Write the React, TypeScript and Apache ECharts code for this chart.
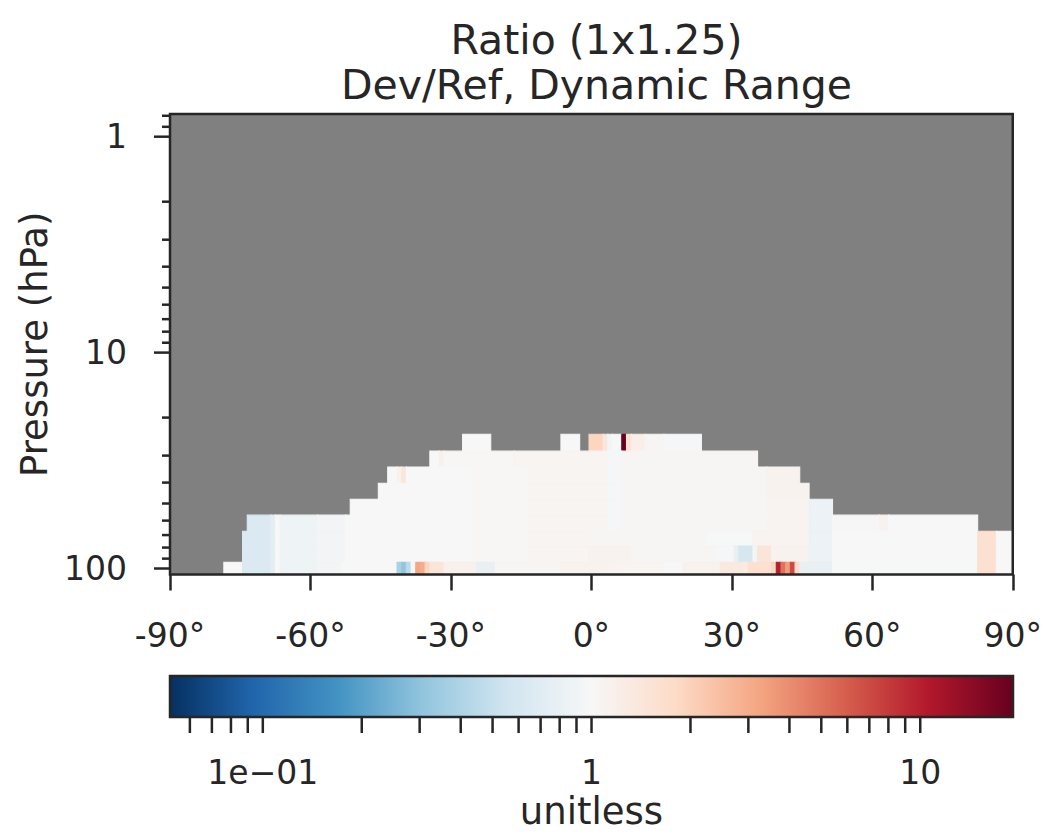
import React, { useEffect, useRef } from 'react';
import * as echarts from 'echarts';

const TITLE_TEXT = 'Ratio (1x1.25)\nDev/Ref, Dynamic Range';
const Y_NAME = 'Pressure (hPa)';
const CBAR_NAME = 'unitless';

// pressure level edges (hPa), top to bottom
const PRESSURE_EDGES = [23.9, 28.6, 33.9, 40.3, 47.8, 56.6, 67.2, 78.8, 93.5, 106.6];
const Y_MIN = 0.785;
const Y_MAX = 106.6;
const LAT_MIN = -90;
const LAT_MAX = 90;
const LAT_INTERVAL = 30;

const Y_MAJOR_TICKS = [1, 10, 100];
const Y_MINOR_TICKS = [0.8, 0.9, 2, 3, 4, 5, 6, 7, 8, 9, 20, 30, 40, 50, 60, 70, 80, 90];

const CBAR_MIN = 0.0522;
const CBAR_MAX = 19.15;
const CBAR_TICKS = [0.06, 0.07, 0.08, 0.09, 0.1, 0.2, 0.3, 0.4, 0.5, 0.6, 0.7, 0.8, 0.9, 1, 2, 3, 4, 5, 6, 7, 8, 9, 10];
const CBAR_LABELS: Record<string, string> = { '-1': '1e\u221201', '0': '1', '1': '10' };

const RDBU_R = ['#053061', '#2166ac', '#4393c3', '#92c5de', '#d1e5f0', '#f7f7f7', '#fddbc7', '#f4a582', '#d6604d', '#b2182b', '#67001f'];

// per pressure level (top to bottom): [first lat cell, last lat cell, Dev/Ref ratio]
const ROW_SEGMENTS: [number, number, number][][] = [
  [[-27, -22, 1.0], [-6, -3, 1.0], [0, 2, 1.9], [3, 3, 1.4], [4, 4, 0.93], [5, 6, 1.0], [7, 7, 19], [8, 8, 1.6], [9, 11, 1.2], [12, 15, 1.05], [16, 23, 0.97]],
  [[-34, -33, 1.0], [-32, -32, 1.15], [-31, -17, 1.03], [-16, 3, 1.07], [4, 6, 0.97], [7, 35, 1.05]],
  [[-43, -42, 1.0], [-41, -41, 1.1], [-40, -40, 1.4], [-39, -26, 1.0], [-25, -14, 1.03], [-13, 3, 1.07], [4, 6, 0.97], [7, 37, 1.05], [38, 44, 1.1]],
  [[-45, -26, 1.0], [-25, -14, 1.03], [-13, 3, 1.07], [4, 6, 0.97], [7, 37, 1.05], [38, 46, 1.1]],
  [[-51, -26, 1.0], [-25, -14, 1.03], [-13, 3, 1.07], [4, 6, 0.97], [7, 37, 1.05], [38, 46, 1.08], [47, 51, 0.84]],
  [[-73, -69, 0.64], [-68, -68, 0.73], [-67, -67, 1.0], [-66, -59, 0.87], [-58, -53, 0.92], [-52, -26, 1.0], [-25, -14, 1.03], [-13, 3, 1.07], [4, 6, 0.97], [7, 37, 1.05], [38, 46, 1.08], [47, 51, 0.84], [52, 61, 0.98], [62, 63, 1.12], [64, 82, 1.0]],
  [[-74, -69, 0.64], [-68, -68, 0.73], [-67, -67, 1.0], [-66, -59, 0.87], [-58, -53, 0.92], [-52, -26, 1.0], [-25, -14, 1.03], [-13, -1, 1.07], [0, 9, 1.05], [10, 24, 1.05], [25, 34, 0.99], [35, 46, 1.08], [47, 51, 0.84], [52, 82, 1.0], [83, 86, 1.6], [87, 90, 1.0]],
  [[-74, -69, 0.64], [-68, -68, 0.73], [-67, -67, 1.0], [-66, -59, 0.87], [-58, -53, 0.92], [-52, -26, 1.0], [-25, -14, 1.03], [-13, -1, 1.07], [0, 8, 1.1], [9, 26, 1.05], [27, 30, 0.97], [31, 31, 0.8], [32, 34, 0.6], [35, 35, 0.92], [36, 38, 1.45], [39, 46, 1.1], [47, 51, 0.84], [52, 82, 1.0], [83, 86, 1.6], [87, 90, 1.0]],
  [[-78, -75, 1.0], [-74, -69, 0.64], [-68, -68, 0.73], [-67, -67, 1.0], [-66, -59, 0.87], [-58, -54, 0.92], [-53, -42, 1.0], [-41, -41, 0.38], [-40, -40, 0.31], [-39, -39, 0.45], [-38, -38, 1.0], [-37, -37, 3.2], [-36, -36, 3.0], [-35, -35, 1.9], [-34, -32, 1.45], [-31, -25, 1.15], [-24, -21, 0.8], [-20, -7, 1.04], [-6, 3, 1.1], [4, 6, 1.08], [7, 15, 1.07], [16, 19, 1.0], [20, 27, 1.1], [28, 32, 1.35], [33, 33, 1.25], [34, 38, 1.6], [39, 39, 1.9], [40, 40, 10], [41, 41, 5], [42, 42, 3.5], [43, 43, 7], [44, 44, 1.8], [45, 51, 0.8], [52, 82, 0.99], [83, 86, 1.6], [87, 90, 1.0]],
];

const TEXT_COLOR = '#262626';
const FONT = 'DejaVu Sans';

export default function App() {
  const ref = useRef<HTMLDivElement>(null);

  useEffect(() => {
    if (!ref.current) return;
    const chart = echarts.init(ref.current, null, { renderer: 'svg' });

    const cells: number[][] = [];
    ROW_SEGMENTS.forEach((segs, i) => {
      segs.forEach(([c0, c1, r]) => {
        cells.push([
          Math.max(LAT_MIN, c0 - 0.5),
          PRESSURE_EDGES[i],
          Math.min(LAT_MAX, c1 + 0.5),
          PRESSURE_EDGES[i + 1],
          Math.log10(r),
        ]);
      });
    });

    const yTicks = [
      ...Y_MAJOR_TICKS.map((v) => [LAT_MIN, v, 1]),
      ...Y_MINOR_TICKS.map((v) => [LAT_MIN, v, 0]),
    ];

    const gradStops = RDBU_R.map((c, i) => ({ offset: i / (RDBU_R.length - 1), color: c }));

    const rectRender = (params: any, api: any) => {
      const p0 = api.coord([api.value(0), api.value(1)]);
      const p1 = api.coord([api.value(2), api.value(3)]);
      const color = api.visual('color');
      return {
        type: 'rect',
        shape: {
          x: Math.min(p0[0], p1[0]),
          y: Math.min(p0[1], p1[1]),
          width: Math.abs(p1[0] - p0[0]),
          height: Math.abs(p1[1] - p0[1]),
        },
        style: { fill: color, stroke: color, lineWidth: 1.1 },
      };
    };

    const option: any = {
      animation: false,
      backgroundColor: '#ffffff',
      textStyle: { fontFamily: FONT, color: TEXT_COLOR },
      title: {
        text: TITLE_TEXT,
        left: 591.5,
        top: 12,
        textAlign: 'center',
        textStyle: { fontFamily: FONT, fontSize: 41, lineHeight: 45, fontWeight: 'normal', color: TEXT_COLOR },
      },
      grid: [
        { left: 170, top: 114, width: 843, height: 460.5, show: true, backgroundColor: '#808080', borderWidth: 0 },
        { left: 170, top: 676, width: 843, height: 41, show: false },
      ],
      visualMap: {
        type: 'continuous',
        show: false,
        seriesIndex: 0,
        dimension: 4,
        min: Math.log10(CBAR_MIN),
        max: Math.log10(CBAR_MAX),
        inRange: { color: RDBU_R },
      },
      xAxis: [
        {
          type: 'value',
          gridIndex: 0,
          min: LAT_MIN,
          max: LAT_MAX,
          interval: LAT_INTERVAL,
          axisLine: { show: false },
          axisTick: { show: true, length: 16, lineStyle: { color: TEXT_COLOR, width: 2.5 } },
          splitLine: { show: false },
          axisLabel: {
            formatter: (v: number) => `${v}\u00b0`,
            fontSize: 33,
            color: TEXT_COLOR,
            fontFamily: FONT,
            margin: 44,
          },
        },
        {
          type: 'log',
          logBase: 10,
          gridIndex: 1,
          min: CBAR_MIN,
          max: CBAR_MAX,
          axisLine: { show: false },
          axisTick: { show: false },
          splitLine: { show: false },
          axisLabel: {
            formatter: (v: number) => {
              const l = Math.log10(v);
              const rl = Math.round(l);
              if (Math.abs(l - rl) > 1e-6) return '';
              return CBAR_LABELS[String(rl)] ?? '';
            },
            fontSize: 33,
            color: TEXT_COLOR,
            fontFamily: FONT,
            margin: 39,
          },
          name: CBAR_NAME,
          nameLocation: 'middle',
          nameGap: 76,
          nameTextStyle: { fontSize: 37, lineHeight: 36, color: TEXT_COLOR, fontFamily: FONT },
        },
      ],
      yAxis: [
        {
          type: 'log',
          logBase: 10,
          gridIndex: 0,
          min: Y_MIN,
          max: Y_MAX,
          inverse: true,
          axisLine: { show: false },
          axisTick: { show: false },
          splitLine: { show: false },
          minorTick: { show: false },
          axisLabel: {
            formatter: (v: number) => {
              const l = Math.log10(v);
              const rl = Math.round(l);
              if (Math.abs(l - rl) > 1e-6) return '';
              return String(Math.round(Math.pow(10, rl)));
            },
            fontSize: 33,
            color: TEXT_COLOR,
            fontFamily: FONT,
            margin: 43,
          },
          name: Y_NAME,
          nameLocation: 'middle',
          nameRotate: 90,
          nameGap: 116,
          nameTextStyle: { fontSize: 37, color: TEXT_COLOR, fontFamily: FONT },
        },
        {
          type: 'value',
          gridIndex: 1,
          min: 0,
          max: 1,
          show: false,
        },
      ],
      series: [
        {
          type: 'custom',
          name: 'ratio',
          xAxisIndex: 0,
          yAxisIndex: 0,
          silent: true,
          encode: { x: [0, 2], y: [1, 3] },
          renderItem: rectRender,
          data: cells,
          z: 2,
        },
        {
          type: 'custom',
          name: 'frame',
          xAxisIndex: 0,
          yAxisIndex: 0,
          silent: true,
          encode: { x: [0, 2], y: [1, 3] },
          renderItem: (params: any, api: any) => {
            const p0 = api.coord([api.value(0), api.value(1)]);
            const p1 = api.coord([api.value(2), api.value(3)]);
            return {
              type: 'rect',
              shape: {
                x: Math.min(p0[0], p1[0]),
                y: Math.min(p0[1], p1[1]),
                width: Math.abs(p1[0] - p0[0]),
                height: Math.abs(p1[1] - p0[1]),
              },
              style: { fill: 'none', stroke: TEXT_COLOR, lineWidth: 2.5 },
            };
          },
          data: [[LAT_MIN, Y_MIN, LAT_MAX, Y_MAX]],
          z: 10,
        },
        {
          type: 'custom',
          name: 'yticks',
          xAxisIndex: 0,
          yAxisIndex: 0,
          silent: true,
          clip: false,
          encode: { x: 0, y: 1 },
          renderItem: (params: any, api: any) => {
            const p = api.coord([api.value(0), api.value(1)]);
            const len = api.value(2) ? 16 : 8;
            return {
              type: 'line',
              shape: { x1: p[0] - len, y1: p[1], x2: p[0], y2: p[1] },
              style: { stroke: TEXT_COLOR, lineWidth: 2.5 },
            };
          },
          data: yTicks,
          z: 10,
        },
        {
          type: 'custom',
          name: 'colorbar',
          xAxisIndex: 1,
          yAxisIndex: 1,
          silent: true,
          encode: { x: [0, 2], y: [1, 3] },
          renderItem: (params: any, api: any) => {
            const p0 = api.coord([api.value(0), api.value(1)]);
            const p1 = api.coord([api.value(2), api.value(3)]);
            const shape = {
              x: Math.min(p0[0], p1[0]),
              y: Math.min(p0[1], p1[1]),
              width: Math.abs(p1[0] - p0[0]),
              height: Math.abs(p1[1] - p0[1]),
            };
            return {
              type: 'group',
              children: [
                {
                  type: 'rect',
                  shape,
                  style: { fill: new echarts.graphic.LinearGradient(0, 0, 1, 0, gradStops) },
                },
                {
                  type: 'rect',
                  shape,
                  style: { fill: 'none', stroke: TEXT_COLOR, lineWidth: 2.5 },
                },
              ],
            };
          },
          data: [[CBAR_MIN, 0, CBAR_MAX, 1]],
          z: 5,
        },
        {
          type: 'custom',
          name: 'cbarticks',
          xAxisIndex: 1,
          yAxisIndex: 1,
          silent: true,
          clip: false,
          encode: { x: 0, y: 1 },
          renderItem: (params: any, api: any) => {
            const p = api.coord([api.value(0), api.value(1)]);
            return {
              type: 'line',
              shape: { x1: p[0], y1: p[1], x2: p[0], y2: p[1] + 16 },
              style: { stroke: TEXT_COLOR, lineWidth: 2.5 },
            };
          },
          data: CBAR_TICKS.map((v) => [v, 0]),
          z: 10,
        },
      ],
    };

    chart.setOption(option);
    return () => chart.dispose();
  }, []);

  return (
    <div
      ref={ref}
      style={{ position: 'absolute', left: 0, top: 0, width: 1045, height: 835, background: '#ffffff' }}
    />
  );
}
